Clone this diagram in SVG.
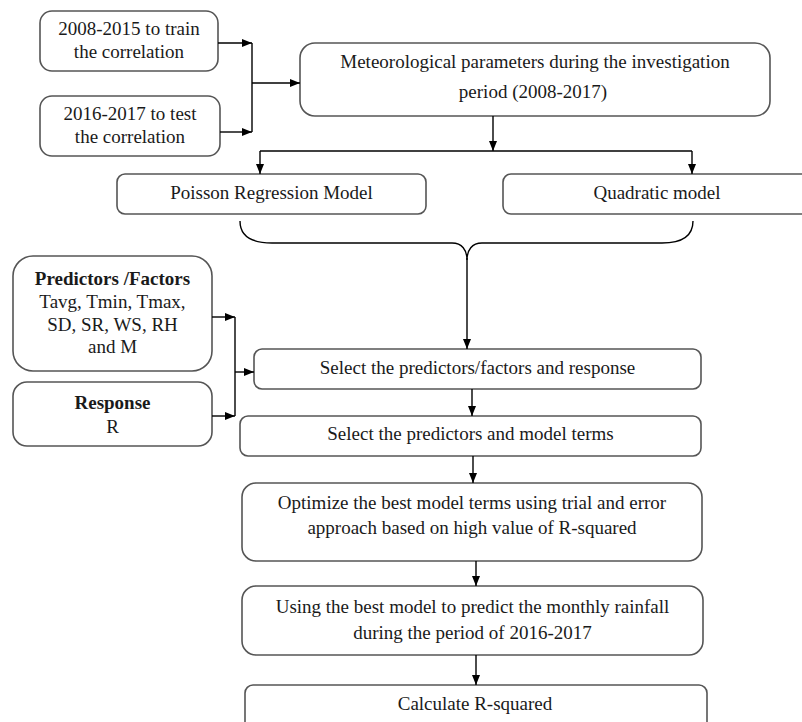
<svg xmlns="http://www.w3.org/2000/svg" width="802" height="722" viewBox="0 0 802 722">
<defs>
<marker id="ah" markerUnits="userSpaceOnUse" markerWidth="10" markerHeight="8" refX="10" refY="4" orient="auto">
<path d="M0,0 L10,4 L0,8 z" fill="#000"/>
</marker>
<style>
.box{fill:#fff;stroke:#555;stroke-width:1.6}
.t{font-family:"Liberation Serif","Times New Roman",serif;font-size:19px;fill:#1a1a1a;text-anchor:middle}
.b{font-weight:bold}
.c{fill:none;stroke:#000;stroke-width:1.4}
.ca{fill:none;stroke:#000;stroke-width:1.4;marker-end:url(#ah)}
</style>
</defs>
<rect width="802" height="722" fill="#fff"/>

<g id="train">
<rect class="box" x="40" y="11" width="178" height="60" rx="12"/>
<text class="t" x="129" y="35">2008-2015 to train</text>
<text class="t" x="129" y="58">the correlation</text>
</g>
<g id="test">
<rect class="box" x="40" y="96" width="180" height="60" rx="12"/>
<text class="t" x="130" y="120">2016-2017 to test</text>
<text class="t" x="130" y="143">the correlation</text>
</g>
<g id="meteo">
<rect class="box" x="300" y="43" width="470" height="73" rx="15"/>
<text class="t" x="535" y="68">Meteorological parameters during the investigation</text>
<text class="t" x="533" y="98">period (2008-2017)</text>
</g>
<g id="poisson">
<rect class="box" x="117" y="174" width="309" height="40" rx="8"/>
<text class="t" x="271.5" y="199">Poisson Regression Model</text>
</g>
<g id="quadratic">
<rect class="box" x="503" y="174" width="308" height="40" rx="8"/>
<text class="t" x="657" y="199">Quadratic model</text>
</g>
<g id="predictors">
<rect class="box" x="13" y="256" width="199" height="115" rx="20"/>
<text class="t b" x="112.5" y="285">Predictors /Factors</text>
<text class="t" x="112.5" y="308">Tavg, Tmin, Tmax,</text>
<text class="t" x="112.5" y="331">SD, SR, WS, RH</text>
<text class="t" x="112.5" y="353">and M</text>
</g>
<g id="response">
<rect class="box" x="13" y="382" width="199" height="64" rx="14"/>
<text class="t b" x="112.5" y="409">Response</text>
<text class="t" x="112.5" y="433">R</text>
</g>
<g id="select1">
<rect class="box" x="254" y="349" width="447" height="40" rx="8"/>
<text class="t" x="477.5" y="374">Select the predictors/factors and response</text>
</g>
<g id="select2">
<rect class="box" x="240" y="416" width="461" height="40" rx="8"/>
<text class="t" x="470.5" y="440">Select the predictors and model terms</text>
</g>
<g id="optimize">
<rect class="box" x="242" y="483" width="460" height="78" rx="14"/>
<text class="t" x="472" y="509">Optimize the best model terms using trial and error</text>
<text class="t" x="472" y="534">approach based on high value of R-squared</text>
</g>
<g id="predict">
<rect class="box" x="242" y="586" width="461" height="69" rx="14"/>
<text class="t" x="472.5" y="613">Using the best model to predict the monthly rainfall</text>
<text class="t" x="472.5" y="639">during the period of 2016-2017</text>
</g>
<g id="rsquared">
<rect class="box" x="245" y="685" width="462" height="50" rx="8"/>
<text class="t" x="475" y="710">Calculate R-squared</text>
</g>

<g id="connectors">
<path class="ca" d="M218,43 H252"/>
<path class="ca" d="M220,132 H252"/>
<path class="c" d="M252,43 V132"/>
<path class="ca" d="M252,83 H300"/>
<path class="ca" d="M493,116 V151"/>
<path class="c" d="M260,151 H692"/>
<path class="ca" d="M260,151 V174"/>
<path class="ca" d="M692,151 V174"/>
<path class="c" d="M240,221 C240,236 252,243 272,243 L452,243 C462,243 467,250 467,260 C467,250 472,243 482,243 L662,243 C682,243 693,236 693,221"/>
<path class="ca" d="M467,258 V349"/>
<path class="ca" d="M212,317 H235"/>
<path class="ca" d="M212,416 H235"/>
<path class="c" d="M235,317 V416"/>
<path class="ca" d="M235,372 H254"/>
<path class="ca" d="M472,389 V416"/>
<path class="ca" d="M473,456 V483"/>
<path class="ca" d="M476,561 V586"/>
<path class="ca" d="M476,655 V685"/>
</g>
</svg>
